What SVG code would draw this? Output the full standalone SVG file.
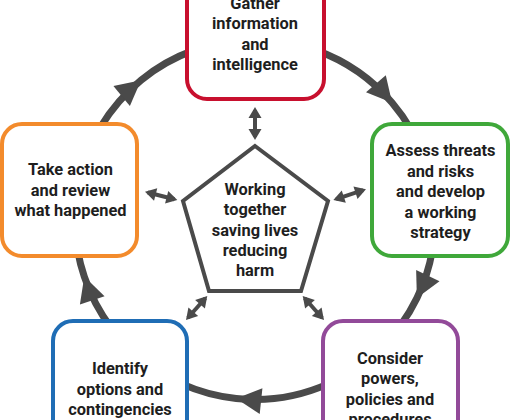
<svg xmlns="http://www.w3.org/2000/svg" width="511" height="420" viewBox="0 0 511 420">
<defs>
<style>
.box{fill:#fff;stroke-width:4}
.t{font-family:Roboto,"Liberation Sans",sans-serif;font-weight:bold;font-size:16.4px;fill:#1e1e1e;text-anchor:middle}
.ring{fill:none;stroke:#4a4a4a;stroke-width:7;marker-mid:url(#big)}
.dbl{fill:none;stroke:#4a4a4a;stroke-width:4;marker-start:url(#small);marker-end:url(#small)}
</style>
<marker id="big" markerUnits="userSpaceOnUse" markerWidth="26" markerHeight="26" refX="25" refY="13" orient="auto" overflow="visible">
<path d="M0,0 L25,13 L0,26 Z" fill="#4a4a4a"/>
</marker>
<marker id="small" markerUnits="userSpaceOnUse" markerWidth="12" markerHeight="13" refX="8" refY="6.5" orient="auto-start-reverse" overflow="visible">
<path d="M0,0 L11,6.5 L0,13 Z" fill="#4a4a4a"/>
</marker>
</defs>
<rect width="511" height="420" fill="#fff"/>
<g id="connectors">
<path class="ring" d="M316.6,50.4 A180,180 0 0 1 392.1,102.8 A180,180 0 0 1 410.9,129.5"/>
<path class="ring" d="M432.3,250.8 A180,180 0 0 1 416.9,298.1 A180,180 0 0 1 400.6,325.3"/>
<path class="ring" d="M328.2,383.9 A180,180 0 0 1 236.2,398.5 A180,180 0 0 1 181.8,383.9"/>
<path class="ring" d="M111.2,327.8 A180,180 0 0 1 84.3,276.6 A180,180 0 0 1 77.7,250.8"/>
<path class="ring" d="M100.7,126.8 A180,180 0 0 1 141.0,80.2 A180,180 0 0 1 193.4,50.4"/>
<path class="dbl" d="M255,110 L255,137"/>
<path class="dbl" d="M147.9,192.5 L174.4,199.3"/>
<path class="dbl" d="M336.2,199.1 L363.1,190.2"/>
<path class="dbl" d="M188,317.8 L205.3,298.2"/>
<path class="dbl" d="M304.7,298.2 L322,317.8"/>
</g>
<g id="gather">
<rect class="box" x="187" y="-33" width="137" height="132" rx="20" stroke="#c8102e"/>
<text class="t" x="255" y="8.5">Gather</text>
<text class="t" x="255" y="29">information</text>
<text class="t" x="255" y="49.5">and</text>
<text class="t" x="255" y="70">intelligence</text>
</g>
<g id="assess">
<rect class="box" x="372" y="124" width="136" height="132" rx="20" stroke="#3fa83a"/>
<text class="t" x="440.5" y="156">Assess threats</text>
<text class="t" x="440.5" y="176.5">and risks</text>
<text class="t" x="440.5" y="197">and develop</text>
<text class="t" x="440.5" y="217.5">a working</text>
<text class="t" x="440.5" y="238">strategy</text>
</g>
<g id="consider">
<rect class="box" x="323" y="321" width="135" height="132" rx="20" stroke="#924a99"/>
<text class="t" x="390" y="363.5">Consider</text>
<text class="t" x="390" y="384">powers,</text>
<text class="t" x="390" y="404.5">policies and</text>
<text class="t" x="390" y="425">procedures</text>
</g>
<g id="identify">
<rect class="box" x="53" y="321" width="134" height="132" rx="20" stroke="#1f6db5"/>
<text class="t" x="120" y="374">Identify</text>
<text class="t" x="120" y="394.5">options and</text>
<text class="t" x="120" y="414.5">contingencies</text>
</g>
<g id="action">
<rect class="box" x="2" y="124" width="135" height="132" rx="20" stroke="#f38b2c"/>
<text class="t" x="70.5" y="175">Take action</text>
<text class="t" x="70.5" y="195.5">and review</text>
<text class="t" x="70.5" y="216">what happened</text>
</g>
<g id="center">
<polygon points="255,146 328,201 301,291 209,291 183,201" fill="#fff" stroke="#4a4a4a" stroke-width="4"/>
<text class="t" x="255" y="195">Working</text>
<text class="t" x="255" y="215">together</text>
<text class="t" x="255" y="235.5">saving lives</text>
<text class="t" x="255" y="256">reducing</text>
<text class="t" x="255" y="276">harm</text>
</g>
</svg>
